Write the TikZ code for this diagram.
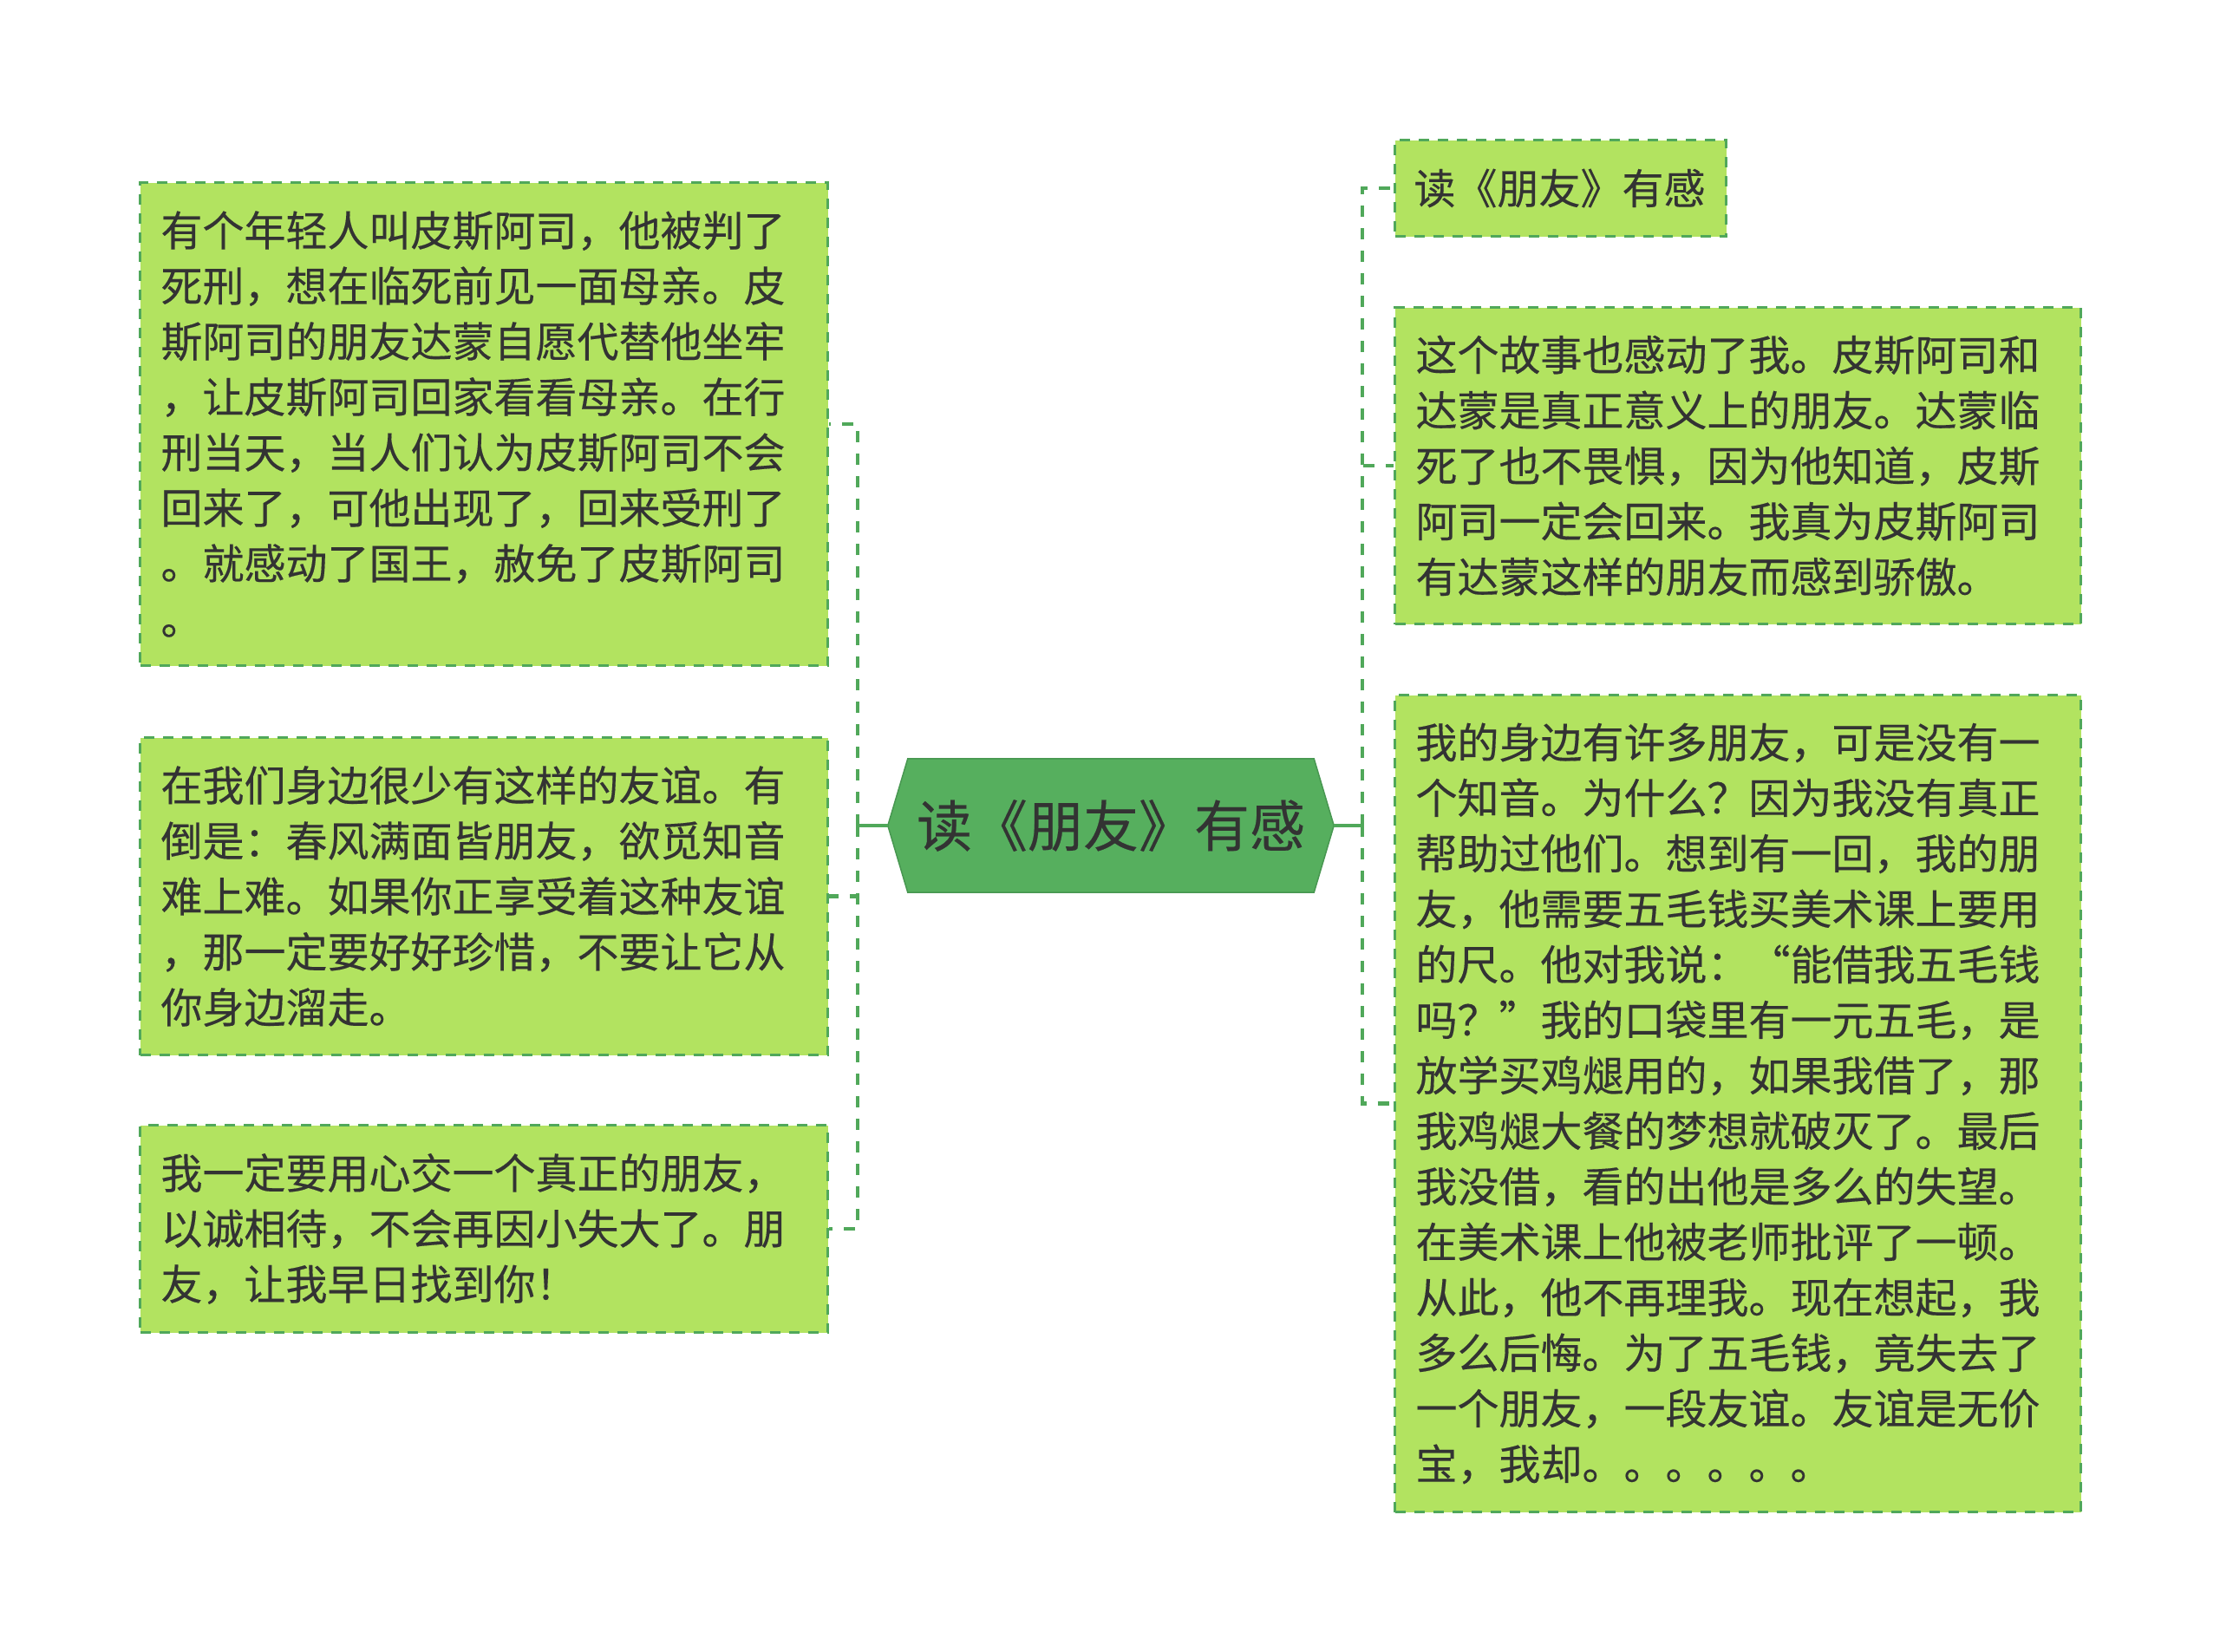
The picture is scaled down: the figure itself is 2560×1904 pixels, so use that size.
\documentclass[tikz,border=0pt]{standalone}
\usepackage{fontspec}
\setmainfont{Noto Sans CJK SC}[FakeBold=0.3]
\usetikzlibrary{backgrounds,calc}
\definecolor{boxfill}{RGB}{178,227,96}
\definecolor{linegreen}{RGB}{80,168,90}
\definecolor{hexfill}{RGB}{86,175,94}
\definecolor{txt}{RGB}{51,51,51}
\tikzset{
  leaf/.style={draw=linegreen, fill=boxfill, line width=3pt, dash pattern=on 12pt off 10pt,
    anchor=north west, inner xsep=24pt, inner ysep=0pt, align=left, text=txt,
    font=\fontsize{48}{64}\selectfont},
  conn/.style={draw=linegreen, line width=4.5pt, dash pattern=on 13pt off 13pt},
  stub/.style={draw=linegreen, line width=4pt},
  hex/.style={fill=hexfill, draw=linegreen!90!black, line width=1.5pt},
}
\begin{document}
\begin{tikzpicture}[x=1pt,y=-1pt]
\useasboundingbox (0,0) rectangle (2560,1904);

% central node
\node[font=\fontsize{64}{70}\selectfont, text=txt, minimum width=514pt, minimum height=154pt, inner sep=0pt] (c) at (1281,952) {读《朋友》有感};
\begin{pgfonlayer}{background}
\fill[white] (0,0) rectangle (2560,1904);
\draw[hex] (c.west) -- ($(c.north west)+(23,0)$) -- ($(c.north east)+(-23,0)$) -- (c.east)
  -- ($(c.south east)+(-23,0)$) -- ($(c.south west)+(23,0)$) -- cycle;
\end{pgfonlayer}

% left leaves
\node[leaf, text width=745pt, minimum width=793pt, minimum height=557pt] (l1) at (160,209) {%
有个年轻人叫皮斯阿司，他被判了\\
死刑，想在临死前见一面母亲。皮\\
斯阿司的朋友达蒙自愿代替他坐牢\\
，让皮斯阿司回家看看母亲。在行\\
刑当天，当人们认为皮斯阿司不会\\
回来了，可他出现了，回来受刑了\\
。就感动了国王，赦免了皮斯阿司\\
。};
\node[leaf, text width=745pt, minimum width=793pt, minimum height=366pt] (l2) at (160,849) {%
在我们身边很少有这样的友谊。有\\
倒是：春风满面皆朋友，欲觅知音\\
难上难。如果你正享受着这种友谊\\
，那一定要好好珍惜，不要让它从\\
你身边溜走。};
\node[leaf, text width=745pt, minimum width=793pt, minimum height=239pt] (l3) at (160,1296) {%
我一定要用心交一个真正的朋友，\\
以诚相待，不会再因小失大了。朋\\
友，让我早日找到你！};

% right leaves
\node[leaf, inner xsep=22pt, text width=338pt, minimum width=382pt, minimum height=111pt] (r1) at (1607,160) {读《朋友》有感};
\node[leaf, text width=743pt, minimum width=791pt, minimum height=365pt] (r2) at (1607,353) {%
这个故事也感动了我。皮斯阿司和\\
达蒙是真正意义上的朋友。达蒙临\\
死了也不畏惧，因为他知道，皮斯\\
阿司一定会回来。我真为皮斯阿司\\
有达蒙这样的朋友而感到骄傲。};
\node[leaf, text width=743pt, minimum width=791pt, minimum height=942pt] (r3) at (1607,800) {%
我的身边有许多朋友，可是没有一\\
个知音。为什么？因为我没有真正\\
帮助过他们。想到有一回，我的朋\\
友，他需要五毛钱买美术课上要用\\
的尺。他对我说：“能借我五毛钱\\
吗？”我的口袋里有一元五毛，是\\
放学买鸡煺用的，如果我借了，那\\
我鸡煺大餐的梦想就破灭了。最后\\
我没借，看的出他是多么的失望。\\
在美术课上他被老师批评了一顿。\\
从此，他不再理我。现在想起，我\\
多么后悔。为了五毛钱，竟失去了\\
一个朋友，一段友谊。友谊是无价\\
宝，我却。。。。。。};

% junctions
\coordinate (jl) at (989,952);
\coordinate (jr) at (1571,952);

% connectors
\draw[stub] (c.west) -- (jl);
\draw[stub] (c.east) -- (jr);
\draw[conn] (jl) |- (l1.east);
\draw[conn] (jl) |- (l2.east);
\draw[conn] (jl) |- (l3.east);
\draw[conn] (jr) |- (r1.west);
\draw[conn] (jr) |- (r2.west);
\draw[conn] (jr) |- (r3.west);
\end{tikzpicture}
\end{document}
